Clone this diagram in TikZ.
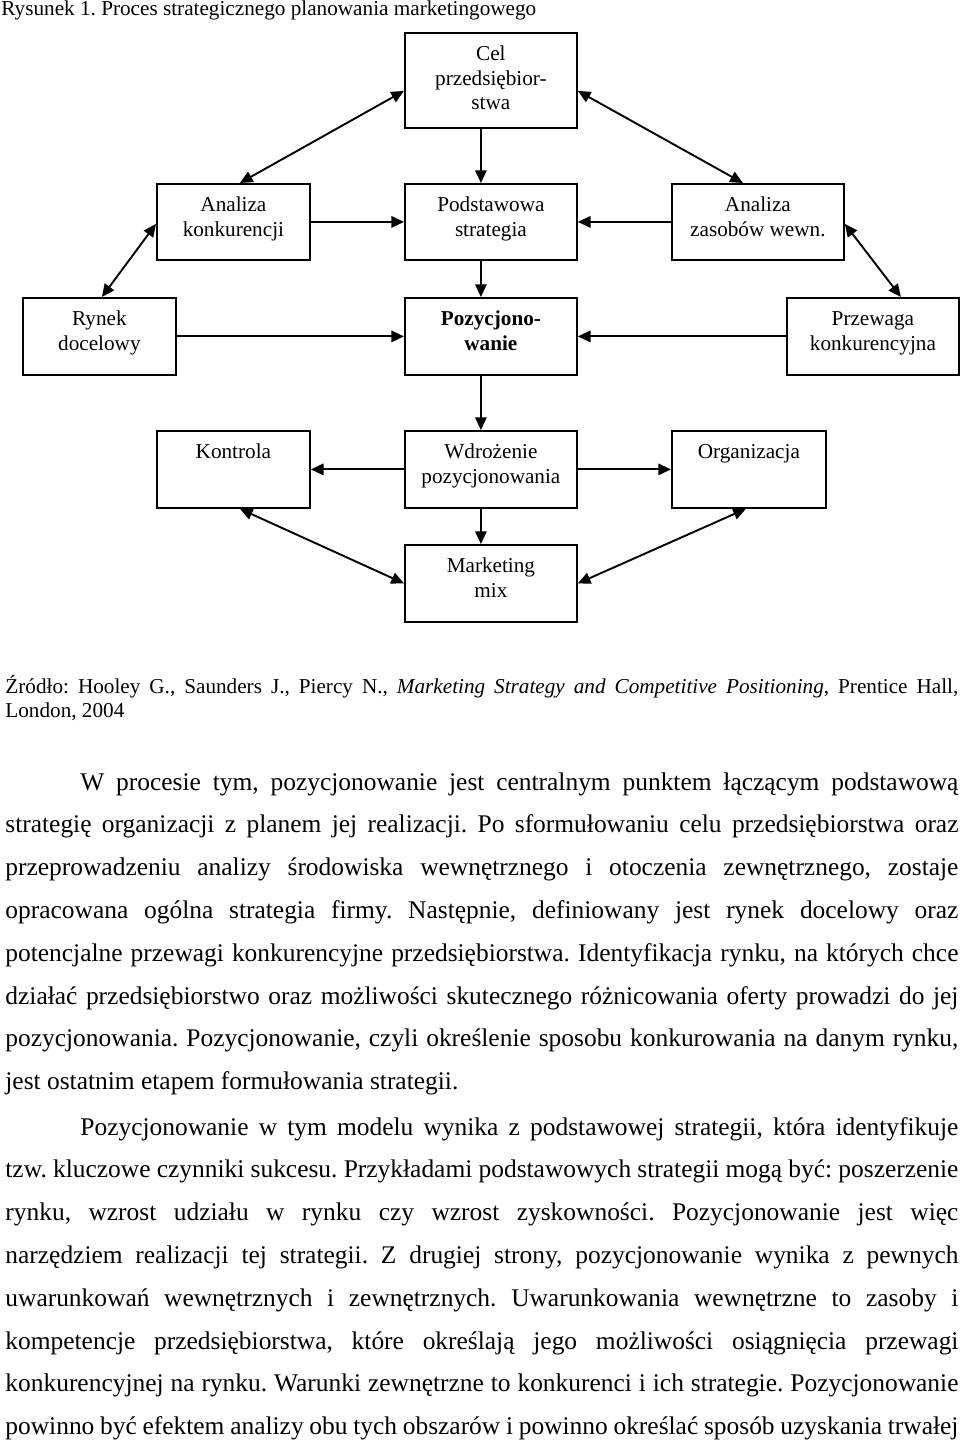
\documentclass[tikz,border=0pt]{standalone}
\usepackage{fontspec}
\setmainfont{Liberation Serif}
\usetikzlibrary{arrows.meta,calc}
\frenchspacing
\newdimen\pxu \pxu=0.4717pt
\newcommand\boxtxt[3]{\vbox to #2\pxu{\hsize=#1\pxu\parindent=0pt\fontsize{10pt}{24.5\pxu}\selectfont\centering\rule{0pt}{28\pxu}#3\par\vfil}}
\newcommand\jline[1]{\makebox[\linewidth][s]{#1}}
\tikzset{
  box/.style={draw, line width=0.85pt, inner sep=0pt, anchor=north west},
  arr/.style={line width=0.9pt, -{Triangle[length=6pt,width=5.4pt]}},
  darr/.style={line width=0.9pt, {Triangle[length=6pt,width=5.4pt]}-{Triangle[length=6pt,width=5.4pt]}},
  txt/.style={inner sep=0pt, anchor=base west}
}
\begin{document}
\begin{tikzpicture}[x=0.4717pt,y=-0.4717pt]
\useasboundingbox (0,0) rectangle (960,1450);
\node[txt] (cap) at (1,16) {\fontsize{10pt}{12pt}\selectfont Rysunek 1. Proces strategicznego planowania marketingowego};

\node[box] (cel) at (404,32) {\boxtxt{172}{95}{Cel\\przedsiębior-\\stwa}};
\node[box] (konk) at (156,183) {\boxtxt{153}{76}{Analiza\\konkurencji}};
\node[box] (pod) at (404,183) {\boxtxt{172}{76}{Podstawowa\\strategia}};
\node[box] (zas) at (671,183) {\boxtxt{172}{76}{Analiza\\zasobów wewn.}};
\node[box] (ryn) at (22,297) {\boxtxt{153}{77}{Rynek\\docelowy}};
\node[box] (poz) at (404,297) {\boxtxt{172}{77}{\textbf{Pozycjono-}\\\textbf{wanie}}};
\node[box] (prz) at (786,297) {\boxtxt{172}{77}{Przewaga\\konkurencyjna}};
\node[box] (kon) at (156,430) {\boxtxt{153}{77}{Kontrola}};
\node[box] (wdr) at (404,430) {\boxtxt{172}{77}{Wdrożenie\\pozycjonowania}};
\node[box] (org) at (671,430) {\boxtxt{154}{77}{Organizacja}};
\node[box] (mix) at (404,544) {\boxtxt{172}{77}{Marketing\\mix}};

\draw[darr] ($(cel.west)+(0,10.5)$) -- ($(konk.north)+(6.5,0)$);
\draw[darr] ($(cel.east)+(0,10.5)$) -- ($(zas.north)+(-15,0)$);
\draw[arr] ($(cel.south)+(-10,0)$) -- ($(pod.north)+(-10,0)$);
\draw[arr] (konk.east) -- (pod.west);
\draw[arr] (zas.west) -- (pod.east);
\draw[darr] ($(konk.west)+(0,2)$) -- ($(ryn.north)+(2.5,0)$);
\draw[darr] ($(zas.east)+(0,2)$) -- ($(prz.north)+(28,0)$);
\draw[arr] ($(pod.south)+(-10,0)$) -- ($(poz.north)+(-10,0)$);
\draw[arr] (ryn.east) -- (poz.west);
\draw[arr] (prz.west) -- (poz.east);
\draw[arr] ($(poz.south)+(-10,0)$) -- ($(wdr.north)+(-10,0)$);
\draw[arr] (wdr.west) -- (kon.east);
\draw[arr] (wdr.east) -- (org.west);
\draw[arr] ($(wdr.south)+(-10,0)$) -- ($(mix.north)+(-10,0)$);
\draw[darr] ($(kon.south)+(6.5,0)$) -- (mix.west);
\draw[darr] ($(org.south)+(-3,0)$) -- (mix.east);

\node[txt] (src) at (5,693) {\parbox[t]{953\pxu}{\fontsize{10pt}{24\pxu}\selectfont
\jline{Źródło: Hooley G., Saunders J., Piercy N., \textit{Marketing Strategy and Competitive Positioning}, Prentice Hall,}\\
London, 2004}};

\node[txt] (para1) at (5,790) {\parbox[t]{953\pxu}{\fontsize{12pt}{42.8\pxu}\selectfont
\jline{\hspace*{75\pxu}W procesie tym, pozycjonowanie jest centralnym punktem łączącym podstawową}\\
\jline{strategię organizacji z planem jej realizacji. Po sformułowaniu celu przedsiębiorstwa oraz}\\
\jline{przeprowadzeniu analizy środowiska wewnętrznego i otoczenia zewnętrznego, zostaje}\\
\jline{opracowana ogólna strategia firmy. Następnie, definiowany jest rynek docelowy oraz}\\
\jline{potencjalne przewagi konkurencyjne przedsiębiorstwa. Identyfikacja rynku, na których chce}\\
\jline{działać przedsiębiorstwo oraz możliwości skutecznego różnicowania oferty prowadzi do jej}\\
\jline{pozycjonowania. Pozycjonowanie, czyli określenie sposobu konkurowania na danym rynku,}\\
jest ostatnim etapem formułowania strategii.}};

\node[txt] (para2) at (5,1135) {\parbox[t]{953\pxu}{\fontsize{12pt}{42.8\pxu}\selectfont
\jline{\hspace*{75\pxu}Pozycjonowanie w tym modelu wynika z podstawowej strategii, która identyfikuje}\\
\jline{tzw. kluczowe czynniki sukcesu. Przykładami podstawowych strategii mogą być: poszerzenie}\\
\jline{rynku, wzrost udziału w rynku czy wzrost zyskowności. Pozycjonowanie jest więc}\\
\jline{narzędziem realizacji tej strategii. Z drugiej strony, pozycjonowanie wynika z pewnych}\\
\jline{uwarunkowań wewnętrznych i zewnętrznych. Uwarunkowania wewnętrzne to zasoby i}\\
\jline{kompetencje przedsiębiorstwa, które określają jego możliwości osiągnięcia przewagi}\\
\jline{konkurencyjnej na rynku. Warunki zewnętrzne to konkurenci i ich strategie. Pozycjonowanie}\\
\jline{powinno być efektem analizy obu tych obszarów i powinno określać sposób uzyskania trwałej}}};
\end{tikzpicture}
\end{document}
